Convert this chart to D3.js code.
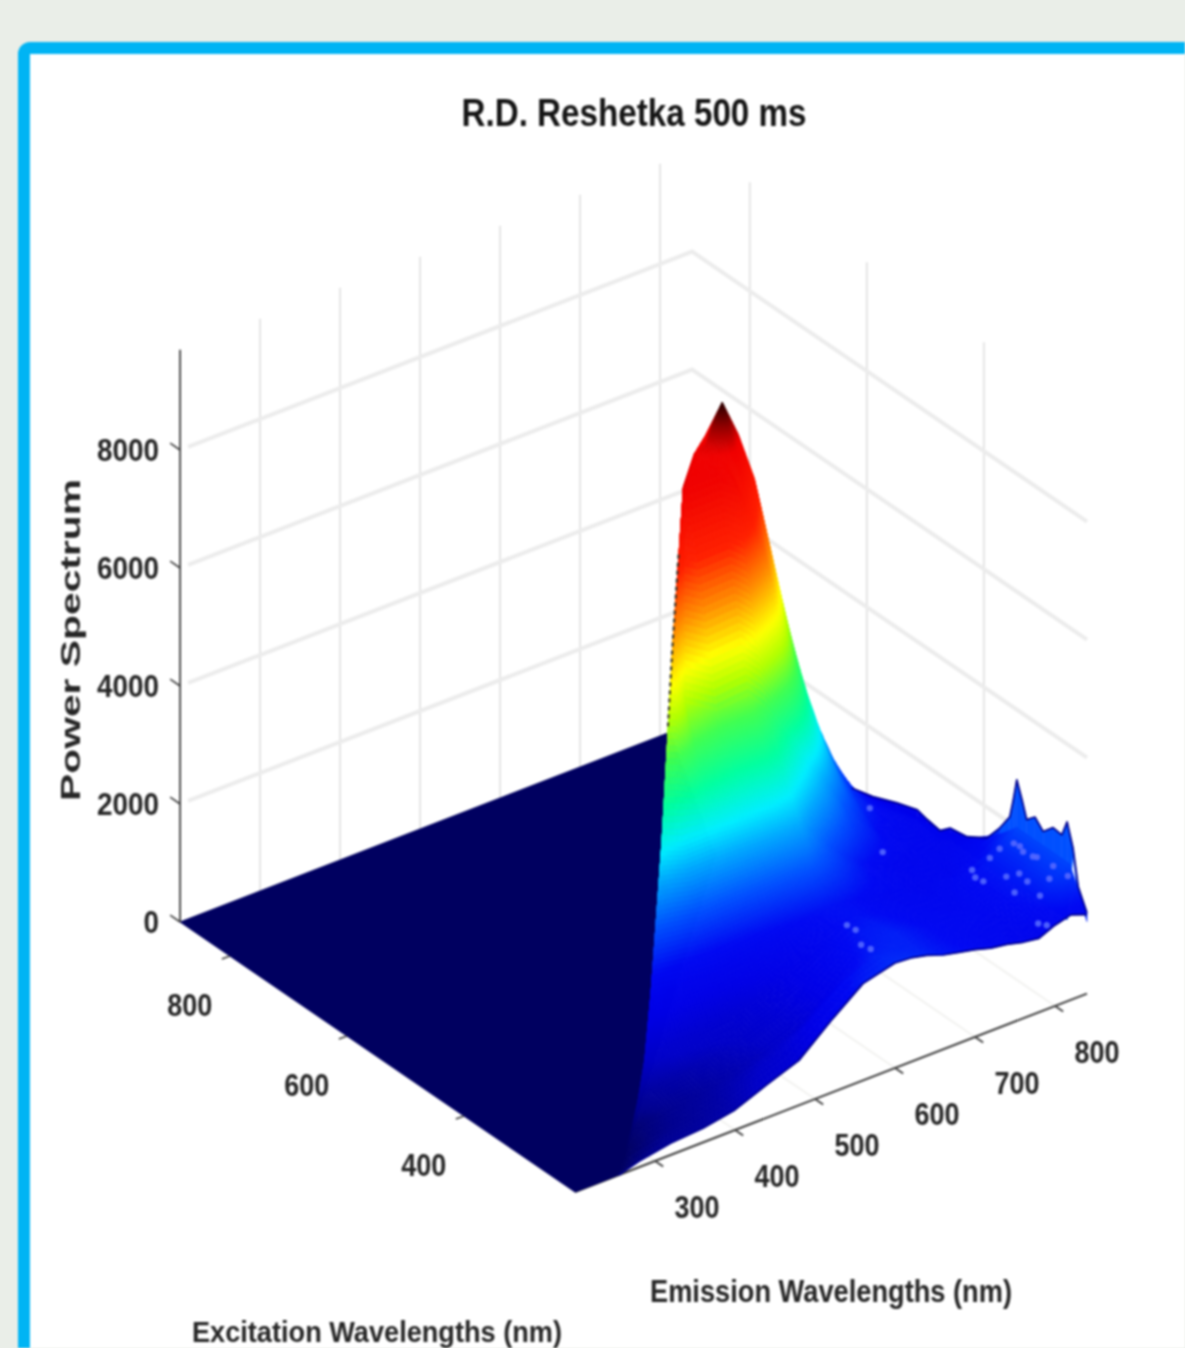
<!DOCTYPE html>
<html>
<head>
<meta charset="utf-8">
<script src="https://cdn.jsdelivr.net/npm/d3@7"></script>
<style>
html,body{margin:0;padding:0;background:#eaeee8;overflow:hidden}
svg{display:block;filter:blur(1px)}
text{font-family:"Liberation Sans",Arial,sans-serif;fill:#262626}
</style>
</head>
<body>
<script>
// ---- data ----
const titleText = "R.D. Reshetka 500 ms";
const zLabel = "Power Spectrum";
const emLabel = "Emission Wavelengths (nm)";
const exLabel = "Excitation Wavelengths (nm)";
const zTicks = [0, 2000, 4000, 6000, 8000];
const exTicks = [400, 600, 800];
const emTicks = [300, 400, 500, 600, 700, 800];
const exRange = [210, 885];
const emRange = [200, 840];
const zTop = 9700;
// emission columns of the surface
const emColumns = [280,320,360,400,440,480,520,560,600,620,640,660,680,700,720,740,760,780,800,820,840];
// excitation rows; each row starts on the scatter ridge (ex + stokesShift)
const stokesShift = 45;
const exRows = [210,240,270,300,330,360,410,460,510,560,610,660];
// power values per row: first = value on the ridge, the rest = the last emission columns
const row210 = [0,100,200,240,340,560,760,1220,1640,1780,1760,1700,1600,1540,1480,1400,1360,1290,1250,1370,1440,1340];
const row240 = [0,100,180,280,450,650,1050,1500,1700,1700,1680,1600,1520,1460,1400,1380,1350,1450,1550,1800,2000];
const row270 = [60,60,150,230,330,450,650,1050,1550,1650,1680,1600,1520,1450,1420,1420,1400,1500,1600,1800,2000];
const row300 = [200,250,320,400,520,720,1050,1450,1600,1620,1550,1480,1420,1400,1380,1420,1500,1600,1750,2000];
const row330 = [500,600,600,650,800,1050,1350,1500,1550,1500,1450,1400,1380,1350,1400,1500,1600,1750,2000];
const row360 = [1320,1250,1200,1250,1350,1500,1550,1550,1500,1420,1380,1350,1300,1350,1300,1400,1500,1680];
const row410 = [3240,3100,3100,3050,3000,2900,2500,2150,1850,1600,1450,1350,1300,1320,1300,1300,1270];
const row460 = [5900,4900,4550,4600,4300,3900,3450,3000,2550,2100,1800,1500,1400,1350,1300,1060];
const row510 = [8050,8000,8000,7800,7000,6200,5100,4050,3230,2420,1900,1600,1400,1220,1000];
const row560 = [8000,8100,8700,8050,7200,5900,4400,3350,2500,1700,1300,1050,800];
const row610 = [7700,7600,7800,6900,5600,4300,3300,2300,1500,1050,660];
const row660 = [7400,7200,6000,4700,3700,2700,1800,1100];
const powerRows = [row210,row240,row270,row300,row330,row360,row410,row460,row510,row560,row610,row660];
// jagged far edge of the surface at the last emission column
const edgeEx = [210,225,234,244,253,268,285,299,313,321,330,336,342,359,381,415,444,461,483,500,535,576,612];
const edgeZ  = [1370,1710,2310,2680,2400,2420,2240,2390,2250,2530,2810,2430,2100,1800,1480,1270,1220,1060,1100,1150,1030,860,760];
// small light flecks where the mesh shows through
const fleckEx = [349,346,332,331,311,297,265,293,296,312,323,248,247,240,275,275,225,220,322,293,325,306,287,268,465,417];
const fleckEm = [798,818,820,837,834,836,838,816,802,785,783,809,820,838,797,813,790,797,838,838,624,621,614,612,755,736];
// colour ramp (jet as it looks in the picture)
const rampStops = [0,150,500,1000,1500,2100,2700,3100,3700,4350,4900,5400,6100,6900,8000,8350,8700];
const rampColors = ["#000060","#000090","#0000c8","#0000e6","#0008f2","#0050ff","#00a8ff","#00eeff","#00ffa0","#40ff50","#b0ff00","#ffff00","#ff9000","#ff2000","#f00000","#900000","#200000"];
const tailColorCap = 2100;
const edgeBase = 1200;

// ---- projection: three linear scales add up to a screen point ----
const W = 1185, H = 1348;
const sx_ex = d3.scaleLinear().domain([210,885]).range([0,-394.9]);
const sy_ex = d3.scaleLinear().domain([210,885]).range([0,-270]);
const sx_em = d3.scaleLinear().domain([200,840]).range([575,1087]);
const sy_em = d3.scaleLinear().domain([200,840]).range([1192,993.6]);
const sy_z  = d3.scaleLinear().domain([0,10000]).range([0,-590]);
const P = (ex,em,z=0)=>[sx_ex(ex)+sx_em(em), sy_ex(ex)+sy_em(em)+sy_z(z)];
const color = d3.scaleLinear().domain(rampStops).range(rampColors).clamp(true);

const svg = d3.select("body").append("svg").attr("width",W).attr("height",H);
// frame
svg.append("rect").attr("width",W).attr("height",H).attr("fill","#eaeee8");
svg.append("rect").attr("x",24).attr("y",48).attr("width",W+40).attr("height",H+40).attr("rx",6)
  .attr("fill","#fff").attr("stroke","#00b4f4").attr("stroke-width",12);

const line = d3.line();
const path = (pts,stroke,w,cap)=>svg.append("path").attr("d",line(pts)).attr("fill","none")
  .attr("stroke",stroke).attr("stroke-width",w).attr("stroke-linecap",cap||"butt");

// back walls
const wallEm = 850;
emTicks.forEach(em=>path([P(exRange[1],em,0),P(exRange[1],em,zTop)],"#e2e2e2",1.8));
[800,600,400].forEach(ex=>path([P(ex,wallEm,0),P(ex,wallEm,zTop)],"#e2e2e2",1.8));
zTicks.filter(z=>z>0).forEach(z=>path([P(exRange[1],emRange[0]+10,z),P(exRange[1],emRange[1],z),P(z===2000?300:exRange[0],emRange[1],z)],"#ececec",4));
// faint floor grid
emTicks.forEach(em=>path([P(exRange[0],em),P(exRange[1],em)],"#f2f2f0",2));
exTicks.forEach(ex=>path([P(ex,emRange[0]),P(ex,emRange[1])],"#f2f2f0",2));

// em axis line sits under the surface
path([P(exRange[0],emRange[0]),P(exRange[0],emRange[1])],"#3c3c3c",2);
emTicks.forEach(em=>path([P(exRange[0],em),P(exRange[0]-14,em)],"#3c3c3c",1.8));

// floor
const lastEx = exRows[exRows.length-1];
svg.append("path").attr("fill",rampColors[0]).attr("stroke",rampColors[0]).attr("stroke-width",1)
  .attr("d",line([P(exRange[1],emRange[0]),P(exRange[1],812),P(lastEx,lastEx+stokesShift),P(exRange[0],exRange[0]+stokesShift),P(exRange[0],emRange[0])])+"Z");

// jagged far edge, painted behind the mesh
const base = (ex,z)=> ex<240 ? z-150 : Math.min(z,edgeBase)*0.85;
svg.append("g").selectAll("path").data(d3.pairs(d3.zip(edgeEx,edgeZ))).join("path")
  .attr("d",d=>line([P(d[0][0],840,d[0][1]),P(d[1][0],840,d[1][1]),P(d[1][0],840,base(d[1][0],d[1][1])),P(d[0][0],840,base(d[0][0],d[0][1]))])+"Z")
  .attr("fill",d=>color(Math.min(tailColorCap,Math.max(d[0][1],d[1][1]))))
  .attr("stroke",d=>color(Math.min(tailColorCap,Math.max(d[0][1],d[1][1])))).attr("stroke-width",0.5);

// surface: rows padded on the left so every row has one value per column
const nCols = emColumns.length;
const fullZ = powerRows.map(r=>{
  const pad = nCols+1-r.length;
  return d3.range(nCols+1).map(j=> j<=pad ? r[0] : r[j-pad]);
});
const fullEm = exRows.map(ex=>{
  const start = ex+stokesShift;
  return [start].concat(emColumns.map(e=>Math.max(e,start)));
});
const surf = svg.append("g");
const cells = [];
for(let i=exRows.length-2;i>=0;i--){
  for(let j=nCols-1;j>=0;j--){
    const v = (a,b)=>{ // a: 0..1 along ex, b: 0..1 along em
      const em0 = fullEm[i][j]+(fullEm[i][j+1]-fullEm[i][j])*b;
      const em1 = fullEm[i+1][j]+(fullEm[i+1][j+1]-fullEm[i+1][j])*b;
      const z0 = fullZ[i][j]+(fullZ[i][j+1]-fullZ[i][j])*b;
      const z1 = fullZ[i+1][j]+(fullZ[i+1][j+1]-fullZ[i+1][j])*b;
      return {ex:exRows[i]+(exRows[i+1]-exRows[i])*a, em:em0+(em1-em0)*a, z:z0+(z1-z0)*a};
    };
    const corners = [[0,0],[0,1],[1,0],[1,1]].map(c=>{const q=v(c[0],c[1]);return P(q.ex,q.em,q.z);});
    const ext = Math.max(Math.abs(corners[0][1]-corners[2][1]),Math.abs(corners[1][1]-corners[3][1]));
    const extB = Math.max(Math.abs(corners[0][1]-corners[1][1]),Math.abs(corners[2][1]-corners[3][1]),Math.abs(corners[0][0]-corners[1][0]));
    const nA = Math.min(30,Math.ceil(ext/4)+1), nB = Math.min(10,Math.ceil(extB/5)+1);
    for(let a=nA-1;a>=0;a--) for(let b=nB-1;b>=0;b--){
      const q=[[a/nA,b/nB],[a/nA,(b+1)/nB],[(a+1)/nA,(b+1)/nB],[(a+1)/nA,b/nB]].map(c=>v(c[0],c[1]));
      const mid=v((a+.5)/nA,(b+.5)/nB);
      cells.push({pts:q.map(p=>P(p.ex,p.em,p.z)),z:mid.z});
    }
  }
}
surf.selectAll("path").data(cells).join("path")
  .attr("d",d=>line(d.pts)+"Z")
  .attr("fill",d=>color(d.z)).attr("stroke",d=>color(d.z)).attr("stroke-width",0.8).attr("stroke-linejoin","round");

// dark rim along the far and front edges of the low tail
const rim = "#00008c";
svg.append("path").attr("fill","none").attr("stroke",rim).attr("stroke-width",1.7).attr("stroke-linejoin","round")
  .attr("d",line(edgeEx.map((ex,k)=>P(ex,840,edgeZ[k]))));
svg.append("path").attr("fill","none").attr("stroke",rim).attr("stroke-width",1.7).attr("stroke-linejoin","round")
  .attr("d",line(fullEm[0].map((em,k)=>P(exRows[0],em,fullZ[0][k]))));

// flecks sit on the surface
const surfaceZ = (ex,em)=>{
  const i = Math.min(exRows.length-2,d3.bisectRight(exRows,ex)-1);
  const j = Math.min(nCols-1,d3.bisectRight(emColumns,em));
  const t = (ex-exRows[i])/(exRows[i+1]-exRows[i]);
  return fullZ[i][j]+(fullZ[i+1][j]-fullZ[i][j])*t;
};
svg.append("g").selectAll("circle").data(d3.zip(fleckEx,fleckEm)).join("circle")
  .attr("cx",d=>P(d[0],d[1],surfaceZ(d[0],d[1]))[0])
  .attr("cy",d=>P(d[0],d[1],surfaceZ(d[0],d[1]))[1])
  .attr("r",3.2).attr("fill","#5468ff").attr("fill-opacity",0.9);

// dark dashes along the ridge where the mesh edge shows
const ridgeZ = d3.scaleLinear().domain(exRows).range(powerRows.map(r=>r[0]));
const dashEx = [440,450,460,470,480,490];
svg.append("path").attr("d",line(dashEx.map(ex=>{const p=P(ex,ex+stokesShift,ridgeZ(ex));return [p[0]-0.5,p[1]];})))
  .attr("fill","none").attr("stroke","#2a2a20").attr("stroke-width",2).attr("stroke-dasharray","4 4");

// z and ex axes
path([P(exRange[1],emRange[0],0),P(exRange[1],emRange[0],zTop)],"#3c3c3c",1.8);
zTicks.forEach(z=>path([P(exRange[1],emRange[0],z),P(exRange[1]+17,emRange[0],z)],"#3c3c3c",1.6));
exTicks.forEach(ex=>path([P(ex,emRange[0]),P(ex,emRange[0]-10)],"#3c3c3c",1.6));

// labels
const label = (x,y,t,size,len,anchor,weight,rot)=>{
  const s=svg.append("text").attr("x",x).attr("y",y).attr("font-size",size).attr("font-weight",weight||"normal")
    .attr("text-anchor",anchor||"middle").attr("textLength",len).attr("lengthAdjust","spacingAndGlyphs").text(t);
  if(rot) s.attr("transform",`rotate(${rot} ${x} ${y})`);
  return s;
};
zTicks.forEach(z=>{const p=P(exRange[1],emRange[0],z);
  label(159,p[1]+11,String(z),31,String(z).length*15.5,"end","bold");});
exTicks.forEach(ex=>{const p=P(ex,emRange[0]);
  label(p[0]-40,p[1]+60,String(ex),31,45,"middle","bold");});
emTicks.forEach(em=>{const p=P(exRange[0],em);
  label(p[0]+42,p[1]+57,String(em),31,45,"middle","bold");});
label(634,126,titleText,38,345,"middle","bold").style("fill","#151515");
label(80,640,zLabel,27,322,"middle","bold",-90);
label(831,1302,emLabel,32,362,"middle","bold");
label(377,1342,exLabel,30,370,"middle","bold");
</script>
</body>
</html>
